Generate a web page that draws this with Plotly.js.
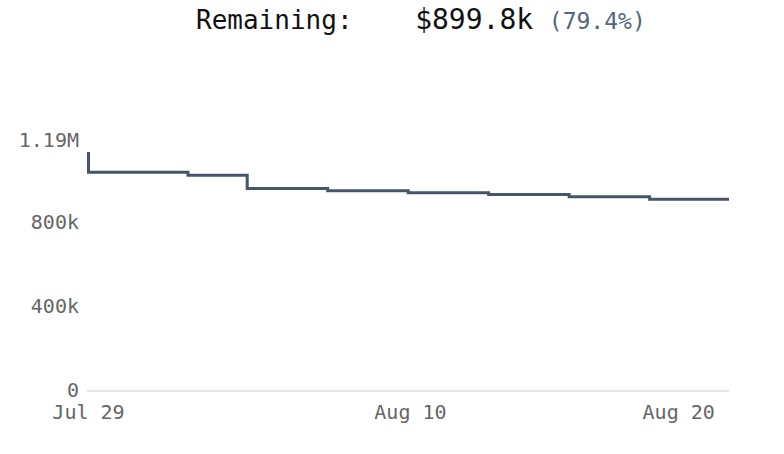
<!DOCTYPE html>
<html>
<head>
<meta charset="utf-8">
<script src="https://cdn.plot.ly/plotly-3.0.1.min.js"></script>
<style>html,body{margin:0;padding:0;background:#fff;}#chart{width:784px;height:454px;}</style>
</head>
<body>
<div id="chart"></div>
<script>
// Data
var dates = ['2024-07-29 00:00', '2024-08-01 17:00', '2024-08-03 22:00', '2024-08-06 22:00',
             '2024-08-09 22:00', '2024-08-12 22:00', '2024-08-15 22:00', '2024-08-18 22:00',
             '2024-08-21 21:00'];
var remaining = [1133200, 1036000, 1022000, 959000, 949000, 939000, 930000, 920000, 908000];
var xTickVals = ['2024-07-29', '2024-08-10', '2024-08-20'];
var xTickText = ['Jul 29', 'Aug 10', 'Aug 20'];
var yTickVals = [0, 400000, 800000, 1190000];
var yTickText = ['0', '400k', '800k', '1.19M'];
var remainingLabel = '$899.8k';
var remainingPct = '(79.4%)';

var mono = 'DejaVu Sans Mono, monospace';

var trace = {
  x: dates,
  y: remaining,
  type: 'scatter',
  mode: 'lines',
  line: {shape: 'vh', color: '#475569', width: 3},
  hoverinfo: 'skip'
};

var layout = {
  width: 784,
  height: 454,
  margin: {l: 87, r: 55, t: 140, b: 64},
  paper_bgcolor: '#ffffff',
  plot_bgcolor: '#ffffff',
  showlegend: false,
  title: {
    text: 'Remaining:&nbsp;&nbsp;&nbsp;&nbsp;<span style="font-size:28px">' + remainingLabel +
          '</span> <span style="font-size:23px;fill:#56657c">' + remainingPct + '</span>',
    font: {family: mono, size: 26, color: '#111111'},
    xref: 'container', x: 196 / 784, xanchor: 'left',
    yref: 'container', y: 1 - 20 / 454, yanchor: 'middle'
  },
  xaxis: {
    type: 'date',
    range: ['2024-07-28 22:40', dates[dates.length - 1]],
    tickmode: 'array',
    tickvals: xTickVals,
    ticktext: xTickText,
    showgrid: false,
    zeroline: false,
    showline: true,
    linecolor: '#e2e8f0',
    linewidth: 2,
    ticks: '',
    ticklabelstandoff: 3,
    tickfont: {family: mono, size: 20, color: '#666666'},
    fixedrange: true
  },
  yaxis: {
    range: [0, 1190000],
    tickmode: 'array',
    tickvals: yTickVals,
    ticktext: yTickText,
    showgrid: false,
    zeroline: false,
    showline: false,
    ticks: '',
    ticklabelstandoff: 7,
    tickfont: {family: mono, size: 20, color: '#666666'},
    fixedrange: true
  }
};

Plotly.newPlot('chart', [trace], layout, {displayModeBar: false, staticPlot: true});
</script>
</body>
</html>
